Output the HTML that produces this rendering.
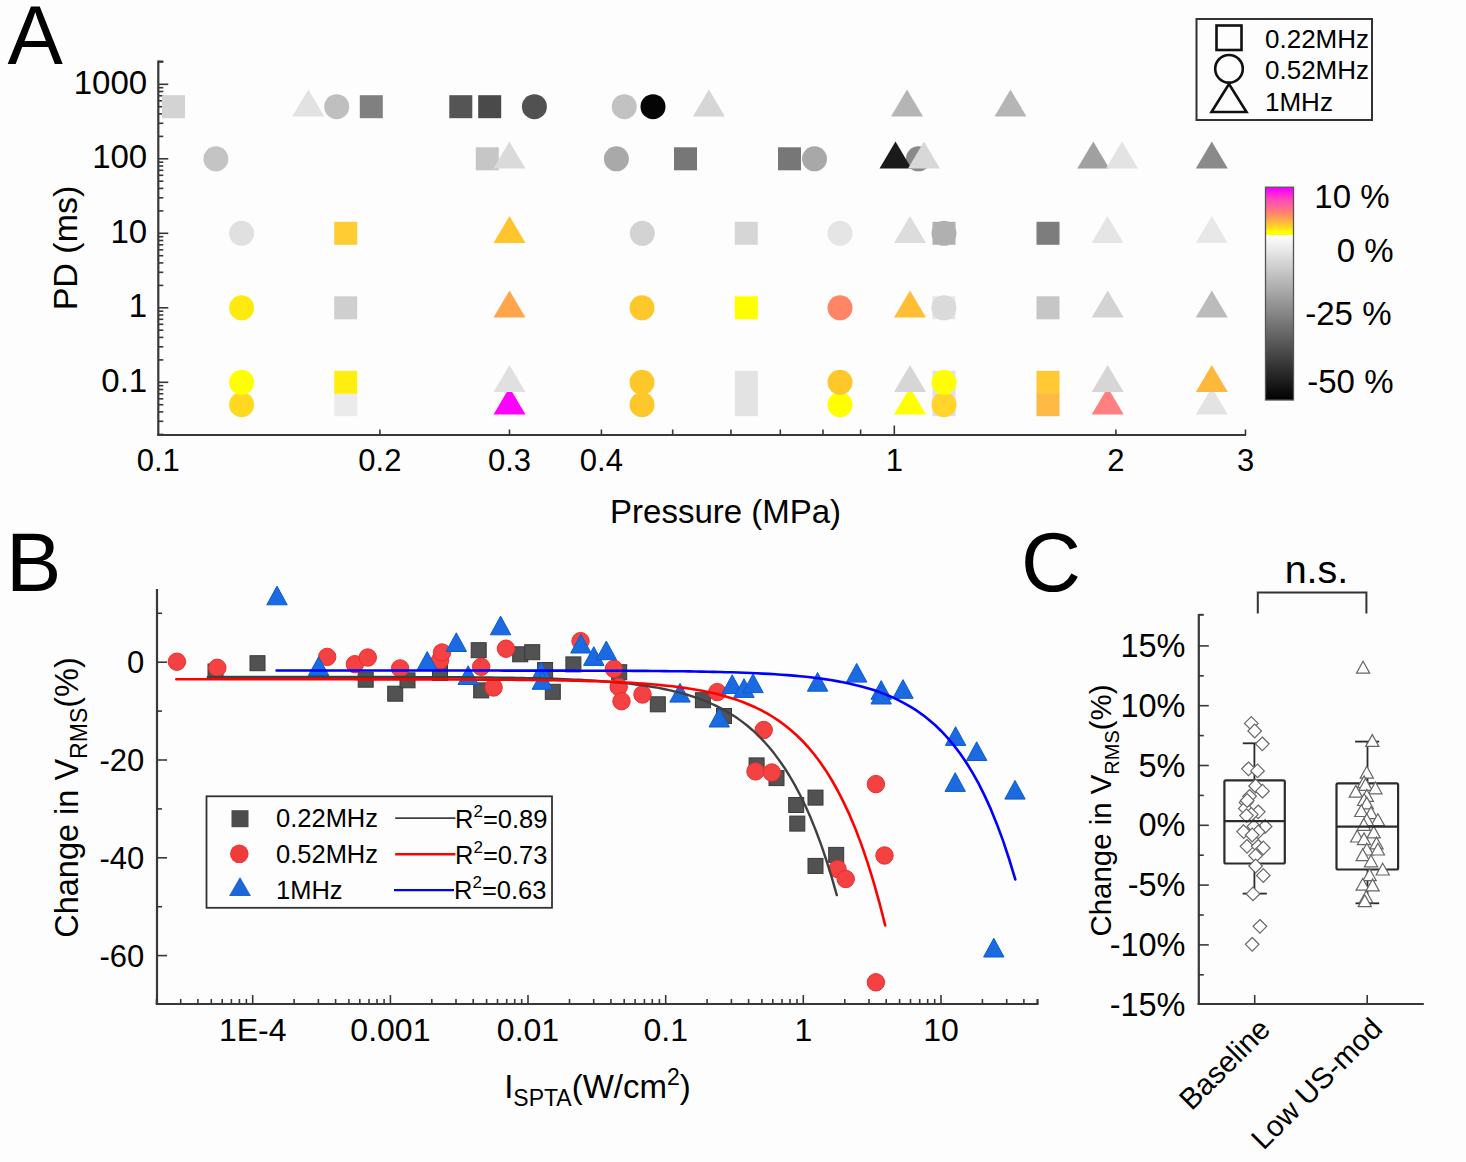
<!DOCTYPE html>
<html><head><meta charset="utf-8"><style>
html,body{margin:0;padding:0;background:#fdfdfd;}
svg{display:block;}
text{font-family:"Liberation Sans",sans-serif;fill:#000;}
</style></head><body>
<svg width="1466" height="1162" viewBox="0 0 1466 1162">
<text x="7.5" y="64.0" font-size="83" text-anchor="start" >A</text>
<line x1="158.3" y1="60.5" x2="158.3" y2="435.5" stroke="#383838" stroke-width="2.2" />
<line x1="157.2" y1="435.0" x2="1246.0" y2="435.0" stroke="#383838" stroke-width="2.2" />
<line x1="158.3" y1="61.5" x2="163.3" y2="61.5" stroke="#383838" stroke-width="2" />
<line x1="158.3" y1="434.4" x2="163.3" y2="434.4" stroke="#383838" stroke-width="1.6" />
<line x1="158.3" y1="421.3" x2="163.3" y2="421.3" stroke="#383838" stroke-width="1.6" />
<line x1="158.3" y1="411.9" x2="163.3" y2="411.9" stroke="#383838" stroke-width="1.6" />
<line x1="158.3" y1="404.7" x2="163.3" y2="404.7" stroke="#383838" stroke-width="1.6" />
<line x1="158.3" y1="398.8" x2="163.3" y2="398.8" stroke="#383838" stroke-width="1.6" />
<line x1="158.3" y1="393.8" x2="163.3" y2="393.8" stroke="#383838" stroke-width="1.6" />
<line x1="158.3" y1="389.5" x2="163.3" y2="389.5" stroke="#383838" stroke-width="1.6" />
<line x1="158.3" y1="385.7" x2="163.3" y2="385.7" stroke="#383838" stroke-width="1.6" />
<line x1="158.3" y1="382.3" x2="168.3" y2="382.3" stroke="#383838" stroke-width="1.6" />
<line x1="158.3" y1="359.9" x2="163.3" y2="359.9" stroke="#383838" stroke-width="1.6" />
<line x1="158.3" y1="346.8" x2="163.3" y2="346.8" stroke="#383838" stroke-width="1.6" />
<line x1="158.3" y1="337.4" x2="163.3" y2="337.4" stroke="#383838" stroke-width="1.6" />
<line x1="158.3" y1="330.2" x2="163.3" y2="330.2" stroke="#383838" stroke-width="1.6" />
<line x1="158.3" y1="324.3" x2="163.3" y2="324.3" stroke="#383838" stroke-width="1.6" />
<line x1="158.3" y1="319.3" x2="163.3" y2="319.3" stroke="#383838" stroke-width="1.6" />
<line x1="158.3" y1="315.0" x2="163.3" y2="315.0" stroke="#383838" stroke-width="1.6" />
<line x1="158.3" y1="311.2" x2="163.3" y2="311.2" stroke="#383838" stroke-width="1.6" />
<line x1="158.3" y1="307.8" x2="168.3" y2="307.8" stroke="#383838" stroke-width="1.6" />
<line x1="158.3" y1="285.4" x2="163.3" y2="285.4" stroke="#383838" stroke-width="1.6" />
<line x1="158.3" y1="272.3" x2="163.3" y2="272.3" stroke="#383838" stroke-width="1.6" />
<line x1="158.3" y1="262.9" x2="163.3" y2="262.9" stroke="#383838" stroke-width="1.6" />
<line x1="158.3" y1="255.7" x2="163.3" y2="255.7" stroke="#383838" stroke-width="1.6" />
<line x1="158.3" y1="249.8" x2="163.3" y2="249.8" stroke="#383838" stroke-width="1.6" />
<line x1="158.3" y1="244.8" x2="163.3" y2="244.8" stroke="#383838" stroke-width="1.6" />
<line x1="158.3" y1="240.5" x2="163.3" y2="240.5" stroke="#383838" stroke-width="1.6" />
<line x1="158.3" y1="236.7" x2="163.3" y2="236.7" stroke="#383838" stroke-width="1.6" />
<line x1="158.3" y1="233.3" x2="168.3" y2="233.3" stroke="#383838" stroke-width="1.6" />
<line x1="158.3" y1="210.9" x2="163.3" y2="210.9" stroke="#383838" stroke-width="1.6" />
<line x1="158.3" y1="197.8" x2="163.3" y2="197.8" stroke="#383838" stroke-width="1.6" />
<line x1="158.3" y1="188.4" x2="163.3" y2="188.4" stroke="#383838" stroke-width="1.6" />
<line x1="158.3" y1="181.2" x2="163.3" y2="181.2" stroke="#383838" stroke-width="1.6" />
<line x1="158.3" y1="175.3" x2="163.3" y2="175.3" stroke="#383838" stroke-width="1.6" />
<line x1="158.3" y1="170.3" x2="163.3" y2="170.3" stroke="#383838" stroke-width="1.6" />
<line x1="158.3" y1="166.0" x2="163.3" y2="166.0" stroke="#383838" stroke-width="1.6" />
<line x1="158.3" y1="162.2" x2="163.3" y2="162.2" stroke="#383838" stroke-width="1.6" />
<line x1="158.3" y1="158.8" x2="168.3" y2="158.8" stroke="#383838" stroke-width="1.6" />
<line x1="158.3" y1="136.4" x2="163.3" y2="136.4" stroke="#383838" stroke-width="1.6" />
<line x1="158.3" y1="123.3" x2="163.3" y2="123.3" stroke="#383838" stroke-width="1.6" />
<line x1="158.3" y1="113.9" x2="163.3" y2="113.9" stroke="#383838" stroke-width="1.6" />
<line x1="158.3" y1="106.7" x2="163.3" y2="106.7" stroke="#383838" stroke-width="1.6" />
<line x1="158.3" y1="100.8" x2="163.3" y2="100.8" stroke="#383838" stroke-width="1.6" />
<line x1="158.3" y1="95.8" x2="163.3" y2="95.8" stroke="#383838" stroke-width="1.6" />
<line x1="158.3" y1="91.5" x2="163.3" y2="91.5" stroke="#383838" stroke-width="1.6" />
<line x1="158.3" y1="87.7" x2="163.3" y2="87.7" stroke="#383838" stroke-width="1.6" />
<line x1="158.3" y1="84.3" x2="168.3" y2="84.3" stroke="#383838" stroke-width="1.6" />
<line x1="158.3" y1="61.9" x2="163.3" y2="61.9" stroke="#383838" stroke-width="1.6" />
<line x1="379.9" y1="435.0" x2="379.9" y2="429.5" stroke="#383838" stroke-width="1.6" />
<line x1="509.5" y1="435.0" x2="509.5" y2="429.5" stroke="#383838" stroke-width="1.6" />
<line x1="601.4" y1="435.0" x2="601.4" y2="429.5" stroke="#383838" stroke-width="1.6" />
<line x1="672.7" y1="435.0" x2="672.7" y2="429.5" stroke="#383838" stroke-width="1.6" />
<line x1="731.0" y1="435.0" x2="731.0" y2="429.5" stroke="#383838" stroke-width="1.6" />
<line x1="780.3" y1="435.0" x2="780.3" y2="429.5" stroke="#383838" stroke-width="1.6" />
<line x1="823.0" y1="435.0" x2="823.0" y2="429.5" stroke="#383838" stroke-width="1.6" />
<line x1="860.6" y1="435.0" x2="860.6" y2="429.5" stroke="#383838" stroke-width="1.6" />
<line x1="1115.9" y1="435.0" x2="1115.9" y2="429.5" stroke="#383838" stroke-width="1.6" />
<line x1="1245.5" y1="435.0" x2="1245.5" y2="429.5" stroke="#383838" stroke-width="1.6" />
<line x1="894.3" y1="435.0" x2="894.3" y2="425.5" stroke="#383838" stroke-width="1.6" />
<text x="147.2" y="93.9" font-size="33" text-anchor="end" >1000</text>
<text x="147.2" y="168.4" font-size="33" text-anchor="end" >100</text>
<text x="147.2" y="242.9" font-size="33" text-anchor="end" >10</text>
<text x="147.2" y="317.4" font-size="33" text-anchor="end" >1</text>
<text x="147.2" y="391.9" font-size="33" text-anchor="end" >0.1</text>
<text x="158.3" y="471.0" font-size="31" text-anchor="middle" >0.1</text>
<text x="379.9" y="471.0" font-size="31" text-anchor="middle" >0.2</text>
<text x="509.5" y="471.0" font-size="31" text-anchor="middle" >0.3</text>
<text x="601.4" y="471.0" font-size="31" text-anchor="middle" >0.4</text>
<text x="894.3" y="471.0" font-size="31" text-anchor="middle" >1</text>
<text x="1115.9" y="471.0" font-size="31" text-anchor="middle" >2</text>
<text x="1245.5" y="471.0" font-size="31" text-anchor="middle" >3</text>
<text x="725.6" y="523.2" font-size="33" text-anchor="middle" >Pressure (MPa)</text>
<text x="0" y="0" font-size="34" text-anchor="middle" transform="translate(77,248) rotate(-90)">PD (ms)</text>
<rect x="162.0" y="95.2" width="23" height="23" fill="#d3d3d3" />
<polygon points="308.3,89.5 324.3,116.5 292.3,116.5" fill="#e2e2e2" />
<circle cx="336.7" cy="106.7" r="12.5" fill="#bfbfbf" />
<rect x="359.8" y="95.2" width="23" height="23" fill="#808080" />
<rect x="449.3" y="95.2" width="23" height="23" fill="#555555" />
<rect x="478.2" y="95.2" width="23" height="23" fill="#4a4a4a" />
<circle cx="534.4" cy="106.7" r="12.5" fill="#515151" />
<circle cx="624.3" cy="106.7" r="12.5" fill="#c2c2c2" />
<circle cx="653.0" cy="106.7" r="12.5" fill="#050505" />
<polygon points="708.9,89.5 724.9,116.5 692.9,116.5" fill="#d6d6d6" />
<polygon points="907.0,89.5 923.0,116.5 891.0,116.5" fill="#b5b5b5" />
<polygon points="1010.5,89.5 1026.5,116.5 994.5,116.5" fill="#b5b5b5" />
<circle cx="215.9" cy="158.8" r="12.5" fill="#c4c4c4" />
<rect x="475.8" y="147.3" width="23" height="23" fill="#c6c6c6" />
<polygon points="509.4,141.6 525.4,168.6 493.4,168.6" fill="#dadada" />
<circle cx="616.4" cy="158.8" r="12.5" fill="#a9a9a9" />
<rect x="674.0" y="147.3" width="23" height="23" fill="#777777" />
<rect x="778.0" y="147.3" width="23" height="23" fill="#777777" />
<circle cx="814.5" cy="158.8" r="12.5" fill="#a8a8a8" />
<circle cx="918.4" cy="158.8" r="12.5" fill="#8a8a8a" />
<polygon points="895.5,141.6 911.5,168.6 879.5,168.6" fill="#1a1a1a" />
<polygon points="924.0,141.6 940.0,168.6 908.0,168.6" fill="#d8d8d8" />
<polygon points="1093.3,141.6 1109.3,168.6 1077.3,168.6" fill="#a0a0a0" />
<polygon points="1122.0,141.6 1138.0,168.6 1106.0,168.6" fill="#e3e3e3" />
<polygon points="1211.8,141.6 1227.8,168.6 1195.8,168.6" fill="#8a8a8a" />
<circle cx="241.6" cy="233.3" r="12.5" fill="#e0e0e0" />
<rect x="334.2" y="221.8" width="23" height="23" fill="#ffcc33" />
<polygon points="509.5,216.1 525.5,243.1 493.5,243.1" fill="#ffc42e" />
<circle cx="642.3" cy="233.3" r="12.5" fill="#d3d3d3" />
<rect x="734.8" y="221.8" width="23" height="23" fill="#d6d6d6" />
<circle cx="840.0" cy="233.3" r="12.5" fill="#e5e5e5" />
<polygon points="910.0,216.1 926.0,243.1 894.0,243.1" fill="#dcdcdc" />
<circle cx="944.0" cy="233.3" r="12.5" fill="#b4b4b4" />
<rect x="932.5" y="221.8" width="23" height="23" fill="#b0b0b0" />
<rect x="1036.5" y="221.8" width="23" height="23" fill="#7d7d7d" />
<polygon points="1107.5,216.1 1123.5,243.1 1091.5,243.1" fill="#e5e5e5" />
<polygon points="1211.8,216.1 1227.8,243.1 1195.8,243.1" fill="#e8e8e8" />
<circle cx="241.6" cy="307.8" r="12.5" fill="#ffea10" />
<rect x="334.2" y="296.3" width="23" height="23" fill="#cfcfcf" />
<polygon points="509.5,290.6 525.5,317.6 493.5,317.6" fill="#ffa64d" />
<circle cx="642.0" cy="307.8" r="12.5" fill="#ffc82a" />
<rect x="734.8" y="296.3" width="23" height="23" fill="#ffff00" />
<circle cx="840.0" cy="307.8" r="12.5" fill="#ff8566" />
<polygon points="910.0,290.6 926.0,317.6 894.0,317.6" fill="#ffbe33" />
<rect x="932.4" y="296.3" width="23" height="23" fill="#e6e6e6" />
<circle cx="943.9" cy="307.8" r="12.5" fill="#dadada" />
<rect x="1036.5" y="296.3" width="23" height="23" fill="#c6c6c6" />
<polygon points="1107.7,290.6 1123.7,317.6 1091.7,317.6" fill="#d3d3d3" />
<polygon points="1211.8,290.6 1227.8,317.6 1195.8,317.6" fill="#bbbbbb" />
<circle cx="241.6" cy="404.7" r="12.5" fill="#ffd820" />
<rect x="334.2" y="393.2" width="23" height="23" fill="#ebebeb" />
<polygon points="509.5,387.5 525.5,414.5 493.5,414.5" fill="#ff00ff" />
<circle cx="642.0" cy="404.7" r="12.5" fill="#ffc82a" />
<rect x="734.8" y="393.2" width="23" height="23" fill="#e3e3e3" />
<circle cx="840.0" cy="404.7" r="12.5" fill="#ffff00" />
<polygon points="910.0,387.5 926.0,414.5 894.0,414.5" fill="#ffff00" />
<rect x="932.5" y="393.2" width="23" height="23" fill="#dde0ee" />
<circle cx="944.0" cy="404.7" r="12.5" fill="#ffd52a" />
<rect x="1036.5" y="393.2" width="23" height="23" fill="#ffba45" />
<polygon points="1107.7,387.5 1123.7,414.5 1091.7,414.5" fill="#ff8080" />
<polygon points="1211.8,387.5 1227.8,414.5 1195.8,414.5" fill="#e3e3e3" />
<circle cx="241.6" cy="382.3" r="12.5" fill="#ffff00" />
<rect x="334.2" y="370.8" width="23" height="23" fill="#ffee10" />
<polygon points="509.5,365.1 525.5,392.1 493.5,392.1" fill="#e0e0e0" />
<circle cx="642.0" cy="382.3" r="12.5" fill="#ffc82a" />
<rect x="734.8" y="370.8" width="23" height="23" fill="#e3e3e3" />
<circle cx="840.0" cy="382.3" r="12.5" fill="#ffc82a" />
<polygon points="910.0,365.1 926.0,392.1 894.0,392.1" fill="#d6d6d6" />
<rect x="932.5" y="370.8" width="23" height="23" fill="#dde0ee" />
<circle cx="944.0" cy="382.3" r="12.5" fill="#ffff00" />
<rect x="1036.5" y="370.8" width="23" height="23" fill="#ffc933" />
<polygon points="1107.7,365.1 1123.7,392.1 1091.7,392.1" fill="#d6d6d6" />
<polygon points="1211.8,365.1 1227.8,392.1 1195.8,392.1" fill="#ffb83c" />
<rect x="1196.5" y="19" width="175.5" height="101" fill="none" stroke="#333" stroke-width="2"/>
<rect x="1216.5" y="25.5" width="25" height="24.5" fill="none" stroke="#111" stroke-width="2.6"/>
<circle cx="1229" cy="68.8" r="13.8" fill="none" stroke="#111" stroke-width="2.6"/>
<polygon points="1229,84 1246.5,112 1211.5,112" fill="none" stroke="#111" stroke-width="2.6" stroke-linejoin="miter"/>
<text x="1265.0" y="47.5" font-size="26" text-anchor="start" >0.22MHz</text>
<text x="1265.0" y="78.5" font-size="26" text-anchor="start" >0.52MHz</text>
<text x="1265.0" y="111.0" font-size="26" text-anchor="start" >1MHz</text>
<defs>
<linearGradient id="gtop" x1="0" y1="0" x2="0" y2="1">
<stop offset="0" stop-color="#ff00ff"/><stop offset="0.05" stop-color="#ff00ff"/>
<stop offset="0.23" stop-color="#ff40c0"/><stop offset="0.38" stop-color="#ff60a0"/>
<stop offset="0.53" stop-color="#ff8070"/><stop offset="0.63" stop-color="#ff9a58"/>
<stop offset="0.73" stop-color="#ffb840"/><stop offset="0.84" stop-color="#ffd820"/>
<stop offset="0.93" stop-color="#ffff00"/><stop offset="1" stop-color="#ffff00"/></linearGradient>
<linearGradient id="gbot" x1="0" y1="0" x2="0" y2="1">
<stop offset="0" stop-color="#ffffff"/><stop offset="1" stop-color="#000000"/></linearGradient>
</defs>
<rect x="1265.5" y="187.2" width="28" height="47.8" fill="url(#gtop)"/>
<rect x="1265.5" y="235" width="28" height="165" fill="url(#gbot)"/>
<rect x="1265.5" y="187.2" width="28" height="212.8" fill="none" stroke="#555" stroke-width="1.3"/>
<text x="1389.5" y="207.7" font-size="33" text-anchor="end" >10 %</text>
<text x="1393.5" y="262.0" font-size="33" text-anchor="end" >0 %</text>
<text x="1391.5" y="325.0" font-size="33" text-anchor="end" >-25 %</text>
<text x="1393.5" y="392.7" font-size="33" text-anchor="end" >-50 %</text>
<text x="6.0" y="591.0" font-size="83" text-anchor="start" >B</text>
<line x1="157.0" y1="589.0" x2="157.0" y2="1004.5" stroke="#383838" stroke-width="2.2" />
<line x1="155.8" y1="1004.0" x2="1038.5" y2="1004.0" stroke="#383838" stroke-width="2.2" />
<line x1="157.0" y1="613.3" x2="162.0" y2="613.3" stroke="#383838" stroke-width="1.6" />
<line x1="157.0" y1="662.2" x2="167.0" y2="662.2" stroke="#383838" stroke-width="1.6" />
<line x1="157.0" y1="711.1" x2="162.0" y2="711.1" stroke="#383838" stroke-width="1.6" />
<line x1="157.0" y1="760.0" x2="167.0" y2="760.0" stroke="#383838" stroke-width="1.6" />
<line x1="157.0" y1="808.9" x2="162.0" y2="808.9" stroke="#383838" stroke-width="1.6" />
<line x1="157.0" y1="857.8" x2="167.0" y2="857.8" stroke="#383838" stroke-width="1.6" />
<line x1="157.0" y1="906.7" x2="162.0" y2="906.7" stroke="#383838" stroke-width="1.6" />
<line x1="157.0" y1="955.6" x2="167.0" y2="955.6" stroke="#383838" stroke-width="1.6" />
<line x1="156.5" y1="1004.0" x2="156.5" y2="999.0" stroke="#383838" stroke-width="1.6" />
<line x1="180.7" y1="1004.0" x2="180.7" y2="999.0" stroke="#383838" stroke-width="1.6" />
<line x1="197.9" y1="1004.0" x2="197.9" y2="999.0" stroke="#383838" stroke-width="1.6" />
<line x1="211.3" y1="1004.0" x2="211.3" y2="999.0" stroke="#383838" stroke-width="1.6" />
<line x1="222.2" y1="1004.0" x2="222.2" y2="999.0" stroke="#383838" stroke-width="1.6" />
<line x1="231.4" y1="1004.0" x2="231.4" y2="999.0" stroke="#383838" stroke-width="1.6" />
<line x1="239.4" y1="1004.0" x2="239.4" y2="999.0" stroke="#383838" stroke-width="1.6" />
<line x1="246.4" y1="1004.0" x2="246.4" y2="999.0" stroke="#383838" stroke-width="1.6" />
<line x1="252.7" y1="1004.0" x2="252.7" y2="995.0" stroke="#383838" stroke-width="1.6" />
<line x1="294.1" y1="1004.0" x2="294.1" y2="999.0" stroke="#383838" stroke-width="1.6" />
<line x1="318.4" y1="1004.0" x2="318.4" y2="999.0" stroke="#383838" stroke-width="1.6" />
<line x1="335.6" y1="1004.0" x2="335.6" y2="999.0" stroke="#383838" stroke-width="1.6" />
<line x1="348.9" y1="1004.0" x2="348.9" y2="999.0" stroke="#383838" stroke-width="1.6" />
<line x1="359.8" y1="1004.0" x2="359.8" y2="999.0" stroke="#383838" stroke-width="1.6" />
<line x1="369.0" y1="1004.0" x2="369.0" y2="999.0" stroke="#383838" stroke-width="1.6" />
<line x1="377.0" y1="1004.0" x2="377.0" y2="999.0" stroke="#383838" stroke-width="1.6" />
<line x1="384.1" y1="1004.0" x2="384.1" y2="999.0" stroke="#383838" stroke-width="1.6" />
<line x1="390.4" y1="1004.0" x2="390.4" y2="995.0" stroke="#383838" stroke-width="1.6" />
<line x1="431.8" y1="1004.0" x2="431.8" y2="999.0" stroke="#383838" stroke-width="1.6" />
<line x1="456.0" y1="1004.0" x2="456.0" y2="999.0" stroke="#383838" stroke-width="1.6" />
<line x1="473.2" y1="1004.0" x2="473.2" y2="999.0" stroke="#383838" stroke-width="1.6" />
<line x1="486.6" y1="1004.0" x2="486.6" y2="999.0" stroke="#383838" stroke-width="1.6" />
<line x1="497.5" y1="1004.0" x2="497.5" y2="999.0" stroke="#383838" stroke-width="1.6" />
<line x1="506.7" y1="1004.0" x2="506.7" y2="999.0" stroke="#383838" stroke-width="1.6" />
<line x1="514.7" y1="1004.0" x2="514.7" y2="999.0" stroke="#383838" stroke-width="1.6" />
<line x1="521.7" y1="1004.0" x2="521.7" y2="999.0" stroke="#383838" stroke-width="1.6" />
<line x1="528.0" y1="1004.0" x2="528.0" y2="995.0" stroke="#383838" stroke-width="1.6" />
<line x1="569.5" y1="1004.0" x2="569.5" y2="999.0" stroke="#383838" stroke-width="1.6" />
<line x1="593.7" y1="1004.0" x2="593.7" y2="999.0" stroke="#383838" stroke-width="1.6" />
<line x1="610.9" y1="1004.0" x2="610.9" y2="999.0" stroke="#383838" stroke-width="1.6" />
<line x1="624.2" y1="1004.0" x2="624.2" y2="999.0" stroke="#383838" stroke-width="1.6" />
<line x1="635.1" y1="1004.0" x2="635.1" y2="999.0" stroke="#383838" stroke-width="1.6" />
<line x1="644.4" y1="1004.0" x2="644.4" y2="999.0" stroke="#383838" stroke-width="1.6" />
<line x1="652.3" y1="1004.0" x2="652.3" y2="999.0" stroke="#383838" stroke-width="1.6" />
<line x1="659.4" y1="1004.0" x2="659.4" y2="999.0" stroke="#383838" stroke-width="1.6" />
<line x1="665.7" y1="1004.0" x2="665.7" y2="995.0" stroke="#383838" stroke-width="1.6" />
<line x1="707.1" y1="1004.0" x2="707.1" y2="999.0" stroke="#383838" stroke-width="1.6" />
<line x1="731.4" y1="1004.0" x2="731.4" y2="999.0" stroke="#383838" stroke-width="1.6" />
<line x1="748.6" y1="1004.0" x2="748.6" y2="999.0" stroke="#383838" stroke-width="1.6" />
<line x1="761.9" y1="1004.0" x2="761.9" y2="999.0" stroke="#383838" stroke-width="1.6" />
<line x1="772.8" y1="1004.0" x2="772.8" y2="999.0" stroke="#383838" stroke-width="1.6" />
<line x1="782.0" y1="1004.0" x2="782.0" y2="999.0" stroke="#383838" stroke-width="1.6" />
<line x1="790.0" y1="1004.0" x2="790.0" y2="999.0" stroke="#383838" stroke-width="1.6" />
<line x1="797.0" y1="1004.0" x2="797.0" y2="999.0" stroke="#383838" stroke-width="1.6" />
<line x1="803.3" y1="1004.0" x2="803.3" y2="995.0" stroke="#383838" stroke-width="1.6" />
<line x1="844.8" y1="1004.0" x2="844.8" y2="999.0" stroke="#383838" stroke-width="1.6" />
<line x1="869.0" y1="1004.0" x2="869.0" y2="999.0" stroke="#383838" stroke-width="1.6" />
<line x1="886.2" y1="1004.0" x2="886.2" y2="999.0" stroke="#383838" stroke-width="1.6" />
<line x1="899.6" y1="1004.0" x2="899.6" y2="999.0" stroke="#383838" stroke-width="1.6" />
<line x1="910.5" y1="1004.0" x2="910.5" y2="999.0" stroke="#383838" stroke-width="1.6" />
<line x1="919.7" y1="1004.0" x2="919.7" y2="999.0" stroke="#383838" stroke-width="1.6" />
<line x1="927.7" y1="1004.0" x2="927.7" y2="999.0" stroke="#383838" stroke-width="1.6" />
<line x1="934.7" y1="1004.0" x2="934.7" y2="999.0" stroke="#383838" stroke-width="1.6" />
<line x1="941.0" y1="1004.0" x2="941.0" y2="995.0" stroke="#383838" stroke-width="1.6" />
<line x1="982.4" y1="1004.0" x2="982.4" y2="999.0" stroke="#383838" stroke-width="1.6" />
<line x1="1006.7" y1="1004.0" x2="1006.7" y2="999.0" stroke="#383838" stroke-width="1.6" />
<line x1="1023.9" y1="1004.0" x2="1023.9" y2="999.0" stroke="#383838" stroke-width="1.6" />
<line x1="1037.2" y1="1004.0" x2="1037.2" y2="999.0" stroke="#383838" stroke-width="1.6" />
<line x1="1037.8" y1="1004.0" x2="1037.8" y2="999.0" stroke="#383838" stroke-width="1.6" />
<text x="144.3" y="673.2" font-size="31" text-anchor="end" >0</text>
<text x="144.3" y="771.0" font-size="31" text-anchor="end" >-20</text>
<text x="144.3" y="868.8" font-size="31" text-anchor="end" >-40</text>
<text x="144.3" y="966.6" font-size="31" text-anchor="end" >-60</text>
<text x="252.7" y="1041.0" font-size="32" text-anchor="middle" >1E-4</text>
<text x="390.4" y="1041.0" font-size="32" text-anchor="middle" >0.001</text>
<text x="528.0" y="1041.0" font-size="32" text-anchor="middle" >0.01</text>
<text x="665.7" y="1041.0" font-size="32" text-anchor="middle" >0.1</text>
<text x="803.3" y="1041.0" font-size="32" text-anchor="middle" >1</text>
<text x="941.0" y="1041.0" font-size="32" text-anchor="middle" >10</text>
<text x="597.5" y="1097.5" font-size="33" text-anchor="middle">I<tspan font-size="23" dy="8">SPTA</tspan><tspan dy="-8">(W/cm</tspan><tspan font-size="23" dy="-13">2</tspan><tspan dy="13">)</tspan></text>
<text x="0" y="0" font-size="32.5" text-anchor="middle" transform="translate(78,797.5) rotate(-90)">Change in V<tspan font-size="23" dy="8.5">RMS</tspan><tspan dy="-8.5">(%)</tspan></text>
<rect x="208.0" y="664.0" width="15" height="15" fill="#525252" stroke="#3a3a3a" stroke-width="1"/>
<rect x="250.0" y="655.7" width="15" height="15" fill="#525252" stroke="#3a3a3a" stroke-width="1"/>
<rect x="358.2" y="672.2" width="15" height="15" fill="#525252" stroke="#3a3a3a" stroke-width="1"/>
<rect x="387.7" y="686.2" width="15" height="15" fill="#525252" stroke="#3a3a3a" stroke-width="1"/>
<rect x="400.0" y="672.8" width="15" height="15" fill="#525252" stroke="#3a3a3a" stroke-width="1"/>
<rect x="432.5" y="665.5" width="15" height="15" fill="#525252" stroke="#3a3a3a" stroke-width="1"/>
<rect x="471.2" y="642.7" width="15" height="15" fill="#525252" stroke="#3a3a3a" stroke-width="1"/>
<rect x="473.7" y="682.9" width="15" height="15" fill="#525252" stroke="#3a3a3a" stroke-width="1"/>
<rect x="512.7" y="646.8" width="15" height="15" fill="#525252" stroke="#3a3a3a" stroke-width="1"/>
<rect x="524.7" y="644.7" width="15" height="15" fill="#525252" stroke="#3a3a3a" stroke-width="1"/>
<rect x="537.6" y="662.5" width="15" height="15" fill="#525252" stroke="#3a3a3a" stroke-width="1"/>
<rect x="545.3" y="684.3" width="15" height="15" fill="#525252" stroke="#3a3a3a" stroke-width="1"/>
<rect x="565.9" y="656.9" width="15" height="15" fill="#525252" stroke="#3a3a3a" stroke-width="1"/>
<rect x="611.7" y="664.7" width="15" height="15" fill="#525252" stroke="#3a3a3a" stroke-width="1"/>
<rect x="650.3" y="696.8" width="15" height="15" fill="#525252" stroke="#3a3a3a" stroke-width="1"/>
<rect x="695.4" y="692.7" width="15" height="15" fill="#525252" stroke="#3a3a3a" stroke-width="1"/>
<rect x="716.5" y="708.5" width="15" height="15" fill="#525252" stroke="#3a3a3a" stroke-width="1"/>
<rect x="749.1" y="757.9" width="15" height="15" fill="#525252" stroke="#3a3a3a" stroke-width="1"/>
<rect x="769.0" y="770.6" width="15" height="15" fill="#525252" stroke="#3a3a3a" stroke-width="1"/>
<rect x="808.0" y="790.1" width="15" height="15" fill="#525252" stroke="#3a3a3a" stroke-width="1"/>
<rect x="788.7" y="797.5" width="15" height="15" fill="#525252" stroke="#3a3a3a" stroke-width="1"/>
<rect x="789.8" y="816.1" width="15" height="15" fill="#525252" stroke="#3a3a3a" stroke-width="1"/>
<rect x="828.7" y="847.4" width="15" height="15" fill="#525252" stroke="#3a3a3a" stroke-width="1"/>
<rect x="808.0" y="858.4" width="15" height="15" fill="#525252" stroke="#3a3a3a" stroke-width="1"/>
<circle cx="176.9" cy="661.7" r="8.7" fill="#f44242" stroke="#ec2c2c" stroke-width="1"/>
<circle cx="217.3" cy="667.8" r="8.7" fill="#f44242" stroke="#ec2c2c" stroke-width="1"/>
<circle cx="327.2" cy="656.9" r="8.7" fill="#f44242" stroke="#ec2c2c" stroke-width="1"/>
<circle cx="354.9" cy="664.2" r="8.7" fill="#f44242" stroke="#ec2c2c" stroke-width="1"/>
<circle cx="367.8" cy="657.5" r="8.7" fill="#f44242" stroke="#ec2c2c" stroke-width="1"/>
<circle cx="400.1" cy="668.4" r="8.7" fill="#f44242" stroke="#ec2c2c" stroke-width="1"/>
<circle cx="440.1" cy="660.2" r="8.7" fill="#f44242" stroke="#ec2c2c" stroke-width="1"/>
<circle cx="442.0" cy="652.5" r="8.7" fill="#f44242" stroke="#ec2c2c" stroke-width="1"/>
<circle cx="481.2" cy="666.8" r="8.7" fill="#f44242" stroke="#ec2c2c" stroke-width="1"/>
<circle cx="493.6" cy="687.5" r="8.7" fill="#f44242" stroke="#ec2c2c" stroke-width="1"/>
<circle cx="506.0" cy="648.7" r="8.7" fill="#f44242" stroke="#ec2c2c" stroke-width="1"/>
<circle cx="580.5" cy="641.1" r="8.7" fill="#f44242" stroke="#ec2c2c" stroke-width="1"/>
<circle cx="613.9" cy="668.8" r="8.7" fill="#f44242" stroke="#ec2c2c" stroke-width="1"/>
<circle cx="618.7" cy="686.9" r="8.7" fill="#f44242" stroke="#ec2c2c" stroke-width="1"/>
<circle cx="621.5" cy="701.2" r="8.7" fill="#f44242" stroke="#ec2c2c" stroke-width="1"/>
<circle cx="642.5" cy="694.5" r="8.7" fill="#f44242" stroke="#ec2c2c" stroke-width="1"/>
<circle cx="717.3" cy="692.1" r="8.7" fill="#f44242" stroke="#ec2c2c" stroke-width="1"/>
<circle cx="763.7" cy="730.0" r="8.7" fill="#f44242" stroke="#ec2c2c" stroke-width="1"/>
<circle cx="755.5" cy="771.4" r="8.7" fill="#f44242" stroke="#ec2c2c" stroke-width="1"/>
<circle cx="771.8" cy="772.5" r="8.7" fill="#f44242" stroke="#ec2c2c" stroke-width="1"/>
<circle cx="837.5" cy="869.0" r="8.7" fill="#f44242" stroke="#ec2c2c" stroke-width="1"/>
<circle cx="845.7" cy="879.0" r="8.7" fill="#f44242" stroke="#ec2c2c" stroke-width="1"/>
<circle cx="875.9" cy="784.1" r="8.7" fill="#f44242" stroke="#ec2c2c" stroke-width="1"/>
<circle cx="884.5" cy="855.5" r="8.7" fill="#f44242" stroke="#ec2c2c" stroke-width="1"/>
<circle cx="875.9" cy="982.3" r="8.7" fill="#f44242" stroke="#ec2c2c" stroke-width="1"/>
<polygon points="277.0,586.1 287.2,604.8 266.8,604.8" fill="#1b6ae0" stroke="#0a5bd6" stroke-width="1" stroke-linejoin="round"/>
<polygon points="318.6,656.8 328.8,675.5 308.4,675.5" fill="#1b6ae0" stroke="#0a5bd6" stroke-width="1" stroke-linejoin="round"/>
<polygon points="427.2,651.5 437.4,670.2 417.0,670.2" fill="#1b6ae0" stroke="#0a5bd6" stroke-width="1" stroke-linejoin="round"/>
<polygon points="456.3,632.8 466.5,651.5 446.1,651.5" fill="#1b6ae0" stroke="#0a5bd6" stroke-width="1" stroke-linejoin="round"/>
<polygon points="468.2,665.8 478.4,684.5 458.0,684.5" fill="#1b6ae0" stroke="#0a5bd6" stroke-width="1" stroke-linejoin="round"/>
<polygon points="500.6,616.1 510.8,634.8 490.4,634.8" fill="#1b6ae0" stroke="#0a5bd6" stroke-width="1" stroke-linejoin="round"/>
<polygon points="541.3,662.0 551.5,680.7 531.1,680.7" fill="#1b6ae0" stroke="#0a5bd6" stroke-width="1" stroke-linejoin="round"/>
<polygon points="542.3,670.6 552.5,689.3 532.1,689.3" fill="#1b6ae0" stroke="#0a5bd6" stroke-width="1" stroke-linejoin="round"/>
<polygon points="580.9,634.3 591.1,653.0 570.7,653.0" fill="#1b6ae0" stroke="#0a5bd6" stroke-width="1" stroke-linejoin="round"/>
<polygon points="593.8,646.7 604.0,665.4 583.6,665.4" fill="#1b6ae0" stroke="#0a5bd6" stroke-width="1" stroke-linejoin="round"/>
<polygon points="606.3,641.0 616.5,659.7 596.1,659.7" fill="#1b6ae0" stroke="#0a5bd6" stroke-width="1" stroke-linejoin="round"/>
<polygon points="680.0,683.4 690.2,702.1 669.8,702.1" fill="#1b6ae0" stroke="#0a5bd6" stroke-width="1" stroke-linejoin="round"/>
<polygon points="719.2,708.3 729.4,727.0 709.0,727.0" fill="#1b6ae0" stroke="#0a5bd6" stroke-width="1" stroke-linejoin="round"/>
<polygon points="732.2,674.8 742.4,693.5 722.0,693.5" fill="#1b6ae0" stroke="#0a5bd6" stroke-width="1" stroke-linejoin="round"/>
<polygon points="744.0,678.7 754.2,697.4 733.8,697.4" fill="#1b6ae0" stroke="#0a5bd6" stroke-width="1" stroke-linejoin="round"/>
<polygon points="753.0,673.9 763.2,692.6 742.8,692.6" fill="#1b6ae0" stroke="#0a5bd6" stroke-width="1" stroke-linejoin="round"/>
<polygon points="817.6,672.5 827.8,691.2 807.4,691.2" fill="#1b6ae0" stroke="#0a5bd6" stroke-width="1" stroke-linejoin="round"/>
<polygon points="856.7,663.4 866.9,682.1 846.5,682.1" fill="#1b6ae0" stroke="#0a5bd6" stroke-width="1" stroke-linejoin="round"/>
<polygon points="881.2,680.6 891.4,699.3 871.0,699.3" fill="#1b6ae0" stroke="#0a5bd6" stroke-width="1" stroke-linejoin="round"/>
<polygon points="881.2,685.3 891.4,704.0 871.0,704.0" fill="#1b6ae0" stroke="#0a5bd6" stroke-width="1" stroke-linejoin="round"/>
<polygon points="903.0,679.6 913.2,698.3 892.8,698.3" fill="#1b6ae0" stroke="#0a5bd6" stroke-width="1" stroke-linejoin="round"/>
<polygon points="955.6,726.7 965.8,745.4 945.4,745.4" fill="#1b6ae0" stroke="#0a5bd6" stroke-width="1" stroke-linejoin="round"/>
<polygon points="976.7,741.8 986.9,760.5 966.5,760.5" fill="#1b6ae0" stroke="#0a5bd6" stroke-width="1" stroke-linejoin="round"/>
<polygon points="955.2,772.7 965.4,791.4 945.0,791.4" fill="#1b6ae0" stroke="#0a5bd6" stroke-width="1" stroke-linejoin="round"/>
<polygon points="1015.0,780.4 1025.2,799.1 1004.8,799.1" fill="#1b6ae0" stroke="#0a5bd6" stroke-width="1" stroke-linejoin="round"/>
<polygon points="993.8,938.3 1004.0,957.0 983.6,957.0" fill="#1b6ae0" stroke="#0a5bd6" stroke-width="1" stroke-linejoin="round"/>
<polyline points="207.8,676.9 213.0,676.9 218.3,676.9 223.5,676.9 228.8,676.9 234.0,676.9 239.2,676.9 244.5,676.9 249.7,676.9 255.0,676.9 260.2,676.9 265.5,676.9 270.7,676.9 275.9,676.9 281.2,676.9 286.4,676.9 291.7,676.9 296.9,676.9 302.1,676.9 307.4,676.9 312.6,676.9 317.9,676.9 323.1,676.9 328.4,676.9 333.6,676.9 338.8,676.9 344.1,676.9 349.3,676.9 354.6,676.9 359.8,676.9 365.1,677.0 370.3,677.0 375.5,677.0 380.8,677.0 386.0,677.0 391.3,677.0 396.5,677.0 401.7,677.0 407.0,677.0 412.2,677.0 417.5,677.1 422.7,677.1 427.9,677.1 433.2,677.1 438.4,677.1 443.7,677.2 448.9,677.2 454.2,677.2 459.4,677.3 464.6,677.3 469.9,677.3 475.1,677.4 480.4,677.4 485.6,677.5 490.8,677.5 496.1,677.6 501.3,677.7 506.6,677.7 511.8,677.8 517.1,677.9 522.3,678.0 527.5,678.1 532.8,678.2 538.0,678.3 543.3,678.5 548.5,678.6 553.8,678.8 559.0,679.0 564.2,679.2 569.5,679.4 574.7,679.6 580.0,679.8 585.2,680.1 590.4,680.4 595.7,680.7 600.9,681.1 606.2,681.5 611.4,681.9 616.6,682.4 621.9,682.9 627.1,683.4 632.4,684.0 637.6,684.7 642.9,685.4 648.1,686.2 653.3,687.0 658.6,687.9 663.8,689.0 669.1,690.1 674.3,691.3 679.5,692.6 684.8,694.0 690.0,695.6 695.3,697.3 700.5,699.2 705.8,701.2 711.0,703.5 716.2,705.9 721.5,708.6 726.7,711.5 732.0,714.7 737.2,718.1 742.4,721.9 747.7,726.0 752.9,730.5 758.2,735.5 763.4,740.8 768.7,746.7 773.9,753.1 779.1,760.1 784.4,767.7 789.6,776.0 794.9,785.1 800.1,795.0 805.3,805.8 810.6,817.6 815.8,830.5 821.1,844.6 826.3,860.0 831.6,876.8 836.8,895.1" fill="none" stroke="#404040" stroke-width="2.4" stroke-linecap="round" stroke-linejoin="round"/>
<polyline points="176.3,679.3 182.2,679.3 188.1,679.3 194.0,679.3 199.9,679.3 205.8,679.3 211.7,679.3 217.7,679.3 223.6,679.3 229.5,679.3 235.4,679.3 241.3,679.3 247.2,679.3 253.1,679.3 259.0,679.3 264.9,679.3 270.8,679.3 276.7,679.3 282.6,679.3 288.5,679.3 294.4,679.3 300.4,679.3 306.3,679.3 312.2,679.3 318.1,679.3 324.0,679.3 329.9,679.3 335.8,679.3 341.7,679.3 347.6,679.3 353.5,679.3 359.4,679.4 365.3,679.4 371.2,679.4 377.2,679.4 383.1,679.4 389.0,679.4 394.9,679.4 400.8,679.4 406.7,679.4 412.6,679.4 418.5,679.4 424.4,679.4 430.3,679.4 436.2,679.4 442.1,679.5 448.0,679.5 454.0,679.5 459.9,679.5 465.8,679.5 471.7,679.6 477.6,679.6 483.5,679.6 489.4,679.6 495.3,679.7 501.2,679.7 507.1,679.8 513.0,679.8 518.9,679.9 524.8,679.9 530.8,680.0 536.7,680.0 542.6,680.1 548.5,680.2 554.4,680.3 560.3,680.4 566.2,680.5 572.1,680.6 578.0,680.8 583.9,680.9 589.8,681.1 595.7,681.3 601.6,681.5 607.5,681.7 613.5,681.9 619.4,682.2 625.3,682.5 631.2,682.8 637.1,683.2 643.0,683.6 648.9,684.0 654.8,684.5 660.7,685.1 666.6,685.7 672.5,686.3 678.4,687.1 684.3,687.9 690.3,688.8 696.2,689.7 702.1,690.8 708.0,692.0 713.9,693.3 719.8,694.8 725.7,696.4 731.6,698.2 737.5,700.1 743.4,702.3 749.3,704.7 755.2,707.3 761.1,710.2 767.0,713.4 773.0,717.0 778.9,720.9 784.8,725.2 790.7,730.0 796.6,735.2 802.5,741.0 808.4,747.4 814.3,754.5 820.2,762.3 826.1,770.9 832.0,780.5 837.9,791.0 843.8,802.6 849.8,815.4 855.7,829.5 861.6,845.1 867.5,862.3 873.4,881.3 879.3,902.3 885.2,925.4" fill="none" stroke="#ff0000" stroke-width="2.6" stroke-linecap="round" stroke-linejoin="round"/>
<polyline points="276.6,670.5 282.8,670.5 288.9,670.5 295.1,670.5 301.2,670.5 307.4,670.5 313.5,670.5 319.7,670.5 325.8,670.5 332.0,670.5 338.2,670.5 344.3,670.5 350.5,670.5 356.6,670.5 362.8,670.5 368.9,670.5 375.1,670.5 381.2,670.5 387.4,670.5 393.6,670.5 399.7,670.5 405.9,670.5 412.0,670.5 418.2,670.5 424.3,670.5 430.5,670.5 436.7,670.5 442.8,670.5 449.0,670.5 455.1,670.5 461.3,670.5 467.4,670.5 473.6,670.5 479.7,670.5 485.9,670.5 492.1,670.5 498.2,670.5 504.4,670.6 510.5,670.6 516.7,670.6 522.8,670.6 529.0,670.6 535.1,670.6 541.3,670.6 547.5,670.6 553.6,670.6 559.8,670.6 565.9,670.6 572.1,670.6 578.2,670.7 584.4,670.7 590.5,670.7 596.7,670.7 602.9,670.7 609.0,670.7 615.2,670.8 621.3,670.8 627.5,670.8 633.6,670.9 639.8,670.9 645.9,670.9 652.1,671.0 658.3,671.0 664.4,671.1 670.6,671.2 676.7,671.2 682.9,671.3 689.0,671.4 695.2,671.5 701.4,671.6 707.5,671.7 713.7,671.9 719.8,672.0 726.0,672.2 732.1,672.3 738.3,672.5 744.4,672.8 750.6,673.0 756.8,673.3 762.9,673.6 769.1,673.9 775.2,674.3 781.4,674.7 787.5,675.1 793.7,675.6 799.8,676.2 806.0,676.8 812.2,677.5 818.3,678.3 824.5,679.1 830.6,680.0 836.8,681.1 842.9,682.2 849.1,683.5 855.2,684.9 861.4,686.4 867.6,688.2 873.7,690.1 879.9,692.2 886.0,694.6 892.2,697.2 898.3,700.1 904.5,703.3 910.7,706.8 916.8,710.7 923.0,715.1 929.1,719.9 935.3,725.3 941.4,731.2 947.6,737.8 953.7,745.1 959.9,753.2 966.1,762.2 972.2,772.1 978.4,783.2 984.5,795.4 990.7,808.9 996.8,823.9 1003.0,840.6 1009.1,859.0 1015.3,879.4" fill="none" stroke="#0000ff" stroke-width="2.6" stroke-linecap="round" stroke-linejoin="round"/>
<rect x="206.5" y="796.3" width="345.5" height="111.5" fill="#fdfdfd" fill-opacity="0" stroke="#333" stroke-width="1.8"/>
<rect x="231.5" y="810.2" width="17" height="17" fill="#4d4d4d" />
<circle cx="239.3" cy="853.8" r="9.3" fill="#ef3b3b" />
<polygon points="240.0,877.0 251.0,896.0 229.0,896.0" fill="#1c66dc" />
<text x="276.0" y="827.2" font-size="25.5" text-anchor="start" >0.22MHz</text>
<text x="276.0" y="863.1" font-size="25.5" text-anchor="start" >0.52MHz</text>
<text x="276.0" y="898.5" font-size="25.5" text-anchor="start" >1MHz</text>
<line x1="395.2" y1="818.2" x2="455.4" y2="818.2" stroke="#404040" stroke-width="1.8" />
<line x1="395.2" y1="854.3" x2="455.4" y2="854.3" stroke="#ff0000" stroke-width="2.4" />
<line x1="394.0" y1="890.1" x2="454.0" y2="890.1" stroke="#0000ff" stroke-width="2.4" />
<text x="455" y="827.5" font-size="25.5">R<tspan font-size="17" dy="-11">2</tspan><tspan dy="11">=</tspan>0.89</text>
<text x="455" y="863.5" font-size="25.5">R<tspan font-size="17" dy="-11">2</tspan><tspan dy="11">=</tspan>0.73</text>
<text x="454" y="898.5" font-size="25.5">R<tspan font-size="17" dy="-11">2</tspan><tspan dy="11">=</tspan>0.63</text>
<text x="1021.0" y="591.0" font-size="83" text-anchor="start" >C</text>
<line x1="1198.8" y1="614.0" x2="1198.8" y2="1004.5" stroke="#383838" stroke-width="2.2" />
<line x1="1197.6" y1="1004.0" x2="1423.8" y2="1004.0" stroke="#383838" stroke-width="2.2" />
<line x1="1198.8" y1="614.8" x2="1203.8" y2="614.8" stroke="#383838" stroke-width="2" />
<line x1="1198.8" y1="645.9" x2="1208.8" y2="645.9" stroke="#383838" stroke-width="1.6" />
<line x1="1198.8" y1="675.8" x2="1203.8" y2="675.8" stroke="#383838" stroke-width="1.6" />
<line x1="1198.8" y1="705.7" x2="1208.8" y2="705.7" stroke="#383838" stroke-width="1.6" />
<line x1="1198.8" y1="735.6" x2="1203.8" y2="735.6" stroke="#383838" stroke-width="1.6" />
<line x1="1198.8" y1="765.5" x2="1208.8" y2="765.5" stroke="#383838" stroke-width="1.6" />
<line x1="1198.8" y1="795.4" x2="1203.8" y2="795.4" stroke="#383838" stroke-width="1.6" />
<line x1="1198.8" y1="825.3" x2="1208.8" y2="825.3" stroke="#383838" stroke-width="1.6" />
<line x1="1198.8" y1="855.2" x2="1203.8" y2="855.2" stroke="#383838" stroke-width="1.6" />
<line x1="1198.8" y1="885.1" x2="1208.8" y2="885.1" stroke="#383838" stroke-width="1.6" />
<line x1="1198.8" y1="915.0" x2="1203.8" y2="915.0" stroke="#383838" stroke-width="1.6" />
<line x1="1198.8" y1="944.9" x2="1208.8" y2="944.9" stroke="#383838" stroke-width="1.6" />
<line x1="1198.8" y1="974.8" x2="1203.8" y2="974.8" stroke="#383838" stroke-width="1.6" />
<line x1="1254.7" y1="1004.0" x2="1254.7" y2="995.0" stroke="#383838" stroke-width="1.6" />
<line x1="1367.2" y1="1004.0" x2="1367.2" y2="995.0" stroke="#383838" stroke-width="1.6" />
<text x="1185.5" y="656.9" font-size="32.5" text-anchor="end" >15%</text>
<text x="1185.5" y="716.7" font-size="32.5" text-anchor="end" >10%</text>
<text x="1185.5" y="776.5" font-size="32.5" text-anchor="end" >5%</text>
<text x="1185.5" y="836.3" font-size="32.5" text-anchor="end" >0%</text>
<text x="1185.5" y="896.1" font-size="32.5" text-anchor="end" >-5%</text>
<text x="1185.5" y="955.9" font-size="32.5" text-anchor="end" >-10%</text>
<text x="1185.5" y="1015.7" font-size="32.5" text-anchor="end" >-15%</text>
<text x="0" y="0" font-size="29.4" text-anchor="middle" transform="translate(1111,810.5) rotate(-90)">Change in V<tspan font-size="20" dy="7.5">RMS</tspan><tspan dy="-7.5">(%)</tspan></text>
<text x="0" y="0" font-size="29.7" text-anchor="end" transform="translate(1272,1031) rotate(-45)">Baseline</text>
<text x="0" y="0" font-size="29.5" text-anchor="end" transform="translate(1384,1030.5) rotate(-45)">Low US-mod</text>
<text x="1316.5" y="583.4" font-size="39.5" text-anchor="middle" >n.s.</text>
<polyline points="1257.8,613.6 1257.8,592.4 1366.4,592.4 1366.4,613.6" fill="none" stroke="#333" stroke-width="2"/>
<rect x="1224.4" y="780.3" width="60.4" height="83.2" fill="none" stroke="#2b2b2b" stroke-width="2.2" rx="1.5"/>
<line x1="1254.4" y1="743.3" x2="1254.4" y2="780.3" stroke="#2b2b2b" stroke-width="1.8" />
<line x1="1242.8" y1="743.3" x2="1266.0" y2="743.3" stroke="#2b2b2b" stroke-width="1.8" />
<line x1="1254.4" y1="863.5" x2="1254.4" y2="893.6" stroke="#2b2b2b" stroke-width="1.8" />
<line x1="1242.7" y1="893.6" x2="1266.8" y2="893.6" stroke="#2b2b2b" stroke-width="1.8" />
<rect x="1336.5" y="783.3" width="61.6" height="86.2" fill="none" stroke="#2b2b2b" stroke-width="2.2" rx="1.5"/>
<line x1="1367.5" y1="741.6" x2="1367.5" y2="783.3" stroke="#2b2b2b" stroke-width="1.8" />
<line x1="1355.1" y1="741.6" x2="1379.2" y2="741.6" stroke="#2b2b2b" stroke-width="1.8" />
<line x1="1367.5" y1="869.5" x2="1367.5" y2="903.3" stroke="#2b2b2b" stroke-width="1.8" />
<line x1="1355.5" y1="903.3" x2="1379.2" y2="903.3" stroke="#2b2b2b" stroke-width="1.8" />
<polygon points="1251.3,716.6 1258.1,723.4 1251.3,730.2 1244.5,723.4" fill="#fff" stroke="#666" stroke-width="1.2"/>
<polygon points="1254.7,724.2 1261.5,731.0 1254.7,737.8 1247.9,731.0" fill="#fff" stroke="#666" stroke-width="1.2"/>
<polygon points="1262.3,737.0 1269.1,743.8 1262.3,750.6 1255.5,743.8" fill="#fff" stroke="#666" stroke-width="1.2"/>
<polygon points="1248.5,762.0 1255.3,768.8 1248.5,775.6 1241.7,768.8" fill="#fff" stroke="#666" stroke-width="1.2"/>
<polygon points="1257.5,764.1 1264.3,770.9 1257.5,777.7 1250.7,770.9" fill="#fff" stroke="#666" stroke-width="1.2"/>
<polygon points="1255.6,779.2 1262.4,786.0 1255.6,792.8 1248.8,786.0" fill="#fff" stroke="#666" stroke-width="1.2"/>
<polygon points="1262.5,784.4 1269.3,791.2 1262.5,798.0 1255.7,791.2" fill="#fff" stroke="#666" stroke-width="1.2"/>
<polygon points="1249.6,789.5 1256.4,796.3 1249.6,803.1 1242.8,796.3" fill="#fff" stroke="#666" stroke-width="1.2"/>
<polygon points="1246.1,795.6 1252.9,802.4 1246.1,809.2 1239.3,802.4" fill="#fff" stroke="#666" stroke-width="1.2"/>
<polygon points="1245.3,801.6 1252.1,808.4 1245.3,815.2 1238.5,808.4" fill="#fff" stroke="#666" stroke-width="1.2"/>
<polygon points="1258.2,805.0 1265.0,811.8 1258.2,818.6 1251.4,811.8" fill="#fff" stroke="#666" stroke-width="1.2"/>
<polygon points="1251.3,807.6 1258.1,814.4 1251.3,821.2 1244.5,814.4" fill="#fff" stroke="#666" stroke-width="1.2"/>
<polygon points="1265.1,819.7 1271.9,826.5 1265.1,833.3 1258.3,826.5" fill="#fff" stroke="#666" stroke-width="1.2"/>
<polygon points="1253.9,819.7 1260.7,826.5 1253.9,833.3 1247.1,826.5" fill="#fff" stroke="#666" stroke-width="1.2"/>
<polygon points="1247.2,793.7 1254.0,800.5 1247.2,807.3 1240.4,800.5" fill="#fff" stroke="#666" stroke-width="1.2"/>
<polygon points="1246.5,808.8 1253.3,815.6 1246.5,822.4 1239.7,815.6" fill="#fff" stroke="#666" stroke-width="1.2"/>
<polygon points="1258.2,825.2 1265.0,832.0 1258.2,838.8 1251.4,832.0" fill="#fff" stroke="#666" stroke-width="1.2"/>
<polygon points="1243.6,824.8 1250.4,831.6 1243.6,838.4 1236.8,831.6" fill="#fff" stroke="#666" stroke-width="1.2"/>
<polygon points="1252.2,828.2 1259.0,835.0 1252.2,841.8 1245.4,835.0" fill="#fff" stroke="#666" stroke-width="1.2"/>
<polygon points="1247.0,839.5 1253.8,846.3 1247.0,853.1 1240.2,846.3" fill="#fff" stroke="#666" stroke-width="1.2"/>
<polygon points="1258.2,839.5 1265.0,846.3 1258.2,853.1 1251.4,846.3" fill="#fff" stroke="#666" stroke-width="1.2"/>
<polygon points="1263.3,841.2 1270.1,848.0 1263.3,854.8 1256.5,848.0" fill="#fff" stroke="#666" stroke-width="1.2"/>
<polygon points="1255.6,848.9 1262.4,855.7 1255.6,862.5 1248.8,855.7" fill="#fff" stroke="#666" stroke-width="1.2"/>
<polygon points="1255.6,859.2 1262.4,866.0 1255.6,872.8 1248.8,866.0" fill="#fff" stroke="#666" stroke-width="1.2"/>
<polygon points="1263.3,868.7 1270.1,875.5 1263.3,882.3 1256.5,875.5" fill="#fff" stroke="#666" stroke-width="1.2"/>
<polygon points="1253.0,887.1 1259.8,893.9 1253.0,900.7 1246.2,893.9" fill="#fff" stroke="#666" stroke-width="1.2"/>
<polygon points="1259.9,919.5 1266.7,926.3 1259.9,933.1 1253.1,926.3" fill="#fff" stroke="#666" stroke-width="1.2"/>
<polygon points="1252.2,937.5 1259.0,944.3 1252.2,951.1 1245.4,944.3" fill="#fff" stroke="#666" stroke-width="1.2"/>
<line x1="1224.4" y1="821.1" x2="1284.8" y2="821.1" stroke="#2b2b2b" stroke-width="2.2" />
<polygon points="1363.1,661.3 1369.7,673.1 1356.5,673.1" fill="#fff" stroke="#666" stroke-width="1.2"/>
<polygon points="1372.3,734.6 1378.9,746.4 1365.7,746.4" fill="#fff" stroke="#666" stroke-width="1.2"/>
<polygon points="1366.8,766.3 1373.4,778.1 1360.2,778.1" fill="#fff" stroke="#666" stroke-width="1.2"/>
<polygon points="1364.0,775.9 1370.6,787.7 1357.4,787.7" fill="#fff" stroke="#666" stroke-width="1.2"/>
<polygon points="1365.5,778.5 1372.1,790.3 1358.9,790.3" fill="#fff" stroke="#666" stroke-width="1.2"/>
<polygon points="1375.4,782.0 1382.0,793.8 1368.8,793.8" fill="#fff" stroke="#666" stroke-width="1.2"/>
<polygon points="1355.8,785.4 1362.4,797.2 1349.2,797.2" fill="#fff" stroke="#666" stroke-width="1.2"/>
<polygon points="1366.8,789.5 1373.4,801.3 1360.2,801.3" fill="#fff" stroke="#666" stroke-width="1.2"/>
<polygon points="1364.1,793.7 1370.7,805.5 1357.5,805.5" fill="#fff" stroke="#666" stroke-width="1.2"/>
<polygon points="1366.8,797.1 1373.4,808.9 1360.2,808.9" fill="#fff" stroke="#666" stroke-width="1.2"/>
<polygon points="1361.3,804.7 1367.9,816.5 1354.7,816.5" fill="#fff" stroke="#666" stroke-width="1.2"/>
<polygon points="1371.0,806.8 1377.6,818.6 1364.4,818.6" fill="#fff" stroke="#666" stroke-width="1.2"/>
<polygon points="1377.9,813.7 1384.5,825.5 1371.3,825.5" fill="#fff" stroke="#666" stroke-width="1.2"/>
<polygon points="1366.8,813.7 1373.4,825.5 1360.2,825.5" fill="#fff" stroke="#666" stroke-width="1.2"/>
<polygon points="1363.8,818.5 1370.4,830.3 1357.2,830.3" fill="#fff" stroke="#666" stroke-width="1.2"/>
<polygon points="1357.2,830.2 1363.8,842.0 1350.6,842.0" fill="#fff" stroke="#666" stroke-width="1.2"/>
<polygon points="1364.0,832.9 1370.6,844.7 1357.4,844.7" fill="#fff" stroke="#666" stroke-width="1.2"/>
<polygon points="1373.7,826.1 1380.3,837.9 1367.1,837.9" fill="#fff" stroke="#666" stroke-width="1.2"/>
<polygon points="1376.5,837.1 1383.1,848.9 1369.9,848.9" fill="#fff" stroke="#666" stroke-width="1.2"/>
<polygon points="1366.8,843.2 1373.4,855.0 1360.2,855.0" fill="#fff" stroke="#666" stroke-width="1.2"/>
<polygon points="1362.7,848.8 1369.3,860.6 1356.1,860.6" fill="#fff" stroke="#666" stroke-width="1.2"/>
<polygon points="1377.9,843.2 1384.5,855.0 1371.3,855.0" fill="#fff" stroke="#666" stroke-width="1.2"/>
<polygon points="1371.0,855.0 1377.6,866.8 1364.4,866.8" fill="#fff" stroke="#666" stroke-width="1.2"/>
<polygon points="1382.7,863.2 1389.3,875.0 1376.1,875.0" fill="#fff" stroke="#666" stroke-width="1.2"/>
<polygon points="1369.6,868.8 1376.2,880.6 1363.0,880.6" fill="#fff" stroke="#666" stroke-width="1.2"/>
<polygon points="1362.7,878.4 1369.3,890.2 1356.1,890.2" fill="#fff" stroke="#666" stroke-width="1.2"/>
<polygon points="1372.6,879.1 1379.2,890.9 1366.0,890.9" fill="#fff" stroke="#666" stroke-width="1.2"/>
<polygon points="1366.1,890.8 1372.7,902.6 1359.5,902.6" fill="#fff" stroke="#666" stroke-width="1.2"/>
<polygon points="1364.8,894.9 1371.4,906.7 1358.2,906.7" fill="#fff" stroke="#666" stroke-width="1.2"/>
<line x1="1336.5" y1="826.6" x2="1398.1" y2="826.6" stroke="#2b2b2b" stroke-width="2.2" />
</svg>
</body></html>
